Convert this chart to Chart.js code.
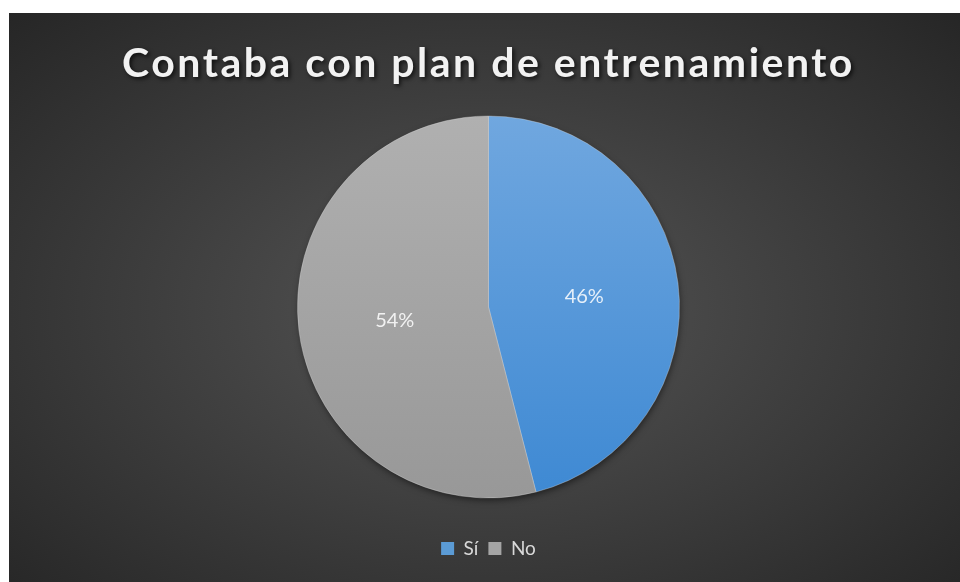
<!DOCTYPE html>
<html>
<head>
<meta charset="utf-8">
<script src="https://cdn.jsdelivr.net/npm/chart.js@4.4.0/dist/chart.umd.min.js"></script>
<style>
  html, body { margin: 0; padding: 0; background: #ffffff; overflow: hidden; }
  #marco {
    position: absolute; left: 9px; top: 13px; width: 951px; height: 569px;
    background: radial-gradient(ellipse farthest-corner at 50% 52%, #565656 0%, #454545 35%, #262626 100%);
  }
</style>
</head>
<body>
<div id="marco"><canvas id="grafico"></canvas></div>
<script>
// Datos del gráfico
const categorias = ['Sí', 'No'];
const porcentajes = [46, 54];
const titulo = 'Contaba con plan de entrenamiento';

// Colores de cada porción (arriba / abajo del degradado) y del recuadro de la leyenda
const coloresArriba = ['rgb(112,167,223)', 'rgb(176,176,176)'];
const coloresAbajo = ['rgb(62,137,211)', 'rgb(152,152,152)'];
const coloresLeyenda = ['#5b9bd5', '#a5a5a5'];

const radioPastel = 191;
const fuente = 'Lato, "Open Sans", sans-serif';

function degradado(context) {
    const chart = context.chart;
    const area = chart.chartArea;
    if (!area || !isFinite(area.top) || !isFinite(area.bottom)) return coloresLeyenda[context.dataIndex];
    const cy = (area.top + area.bottom) / 2;
    const g = chart.ctx.createLinearGradient(0, cy - radioPastel, 0, cy + radioPastel);
    g.addColorStop(0, coloresArriba[context.dataIndex]);
    g.addColorStop(1, coloresAbajo[context.dataIndex]);
    return g;
}

// Sombra debajo del círculo completo
const sombraPastel = {
    id: 'sombraPastel',
    beforeDatasetsDraw(chart) {
        const arco = chart.getDatasetMeta(0).data[0];
        if (!arco) return;
        const ctx = chart.ctx;
        ctx.save();
        ctx.shadowColor = 'rgba(0,0,0,0.55)';
        ctx.shadowBlur = 7;
        ctx.shadowOffsetX = 1;
        ctx.shadowOffsetY = 3;
        ctx.fillStyle = '#9a9a9a';
        ctx.beginPath();
        ctx.arc(arco.x, arco.y, arco.outerRadius - 1, 0, Math.PI * 2);
        ctx.fill();
        ctx.restore();
    }
};

// Porcentajes dentro de cada porción
const etiquetas = {
    id: 'etiquetas',
    afterDatasetsDraw(chart) {
        const ctx = chart.ctx;
        const meta = chart.getDatasetMeta(0);
        ctx.save();
        ctx.font = '20px ' + fuente;
        ctx.textAlign = 'center';
        ctx.textBaseline = 'middle';
        ctx.fillStyle = 'rgba(255,255,255,0.85)';
        meta.data.forEach((arco, i) => {
            const p = arco.tooltipPosition();
            ctx.fillText(porcentajes[i] + '%', p.x + 1, p.y + 2);
        });
        ctx.restore();
    }
};

// Sombra y espaciado de letras del título
const estiloTitulo = {
    id: 'estiloTitulo',
    afterLayout(chart) {
        const bloque = chart.titleBlock;
        if (!bloque || bloque._conSombra) return;
        const dibujar = bloque.draw;
        bloque.draw = function () {
            const ctx = chart.ctx;
            ctx.save();
            ctx.letterSpacing = '2.5px';
            ctx.shadowColor = 'rgba(0,0,0,0.7)';
            ctx.shadowBlur = 4;
            ctx.shadowOffsetX = 2;
            ctx.shadowOffsetY = 2;
            dibujar.apply(this, arguments);
            ctx.restore();
        };
        bloque._conSombra = true;
    }
};

const ctx = document.getElementById('grafico');
new Chart(ctx, {
    type: 'pie',
    data: {
        labels: categorias,
        datasets: [{
            data: porcentajes,
            backgroundColor: degradado,
            borderColor: 'rgba(220,220,220,0.35)',
            borderWidth: 1,
            radius: radioPastel
        }]
    },
    options: {
        responsive: true,
        maintainAspectRatio: false,
        animation: false,
        layout: { padding: { left: 8, right: 0, top: 0, bottom: 14 } },
        plugins: {
            title: {
                display: true,
                text: titulo,
                color: '#f2f2f2',
                font: { family: fuente, size: 41, weight: 'bold', lineHeight: 1 },
                padding: { top: 30, bottom: 1 }
            },
            legend: {
                position: 'bottom',
                labels: {
                    color: '#d9d9d9',
                    font: { family: fuente, size: 19 },
                    boxWidth: 13,
                    boxHeight: 13,
                    padding: 10,
                    generateLabels(chart) {
                        const base = Chart.overrides.doughnut.plugins.legend.labels.generateLabels(chart);
                        return base.map((item, i) => Object.assign(item, {
                            fillStyle: coloresLeyenda[i],
                            strokeStyle: coloresLeyenda[i],
                            lineWidth: 0,
                            fontColor: '#d9d9d9'
                        }));
                    }
                }
            },
            tooltip: { enabled: false }
        }
    },
    plugins: [sombraPastel, etiquetas, estiloTitulo]
});
</script>
</body>
</html>
